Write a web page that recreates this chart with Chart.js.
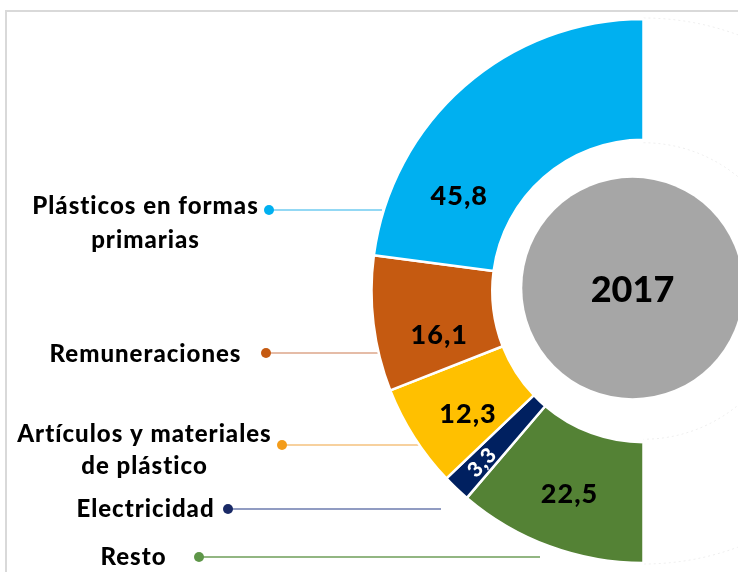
<!DOCTYPE html>
<html>
<head>
<meta charset="utf-8">
<script src="https://cdn.jsdelivr.net/npm/chart.js@4.4.1/dist/chart.umd.min.js"></script>
<style>
  html, body { margin: 0; padding: 0; background: #ffffff; }
  #wrap { position: relative; width: 738px; height: 572px; overflow: hidden; background: #fff; }
  #frame { position: absolute; left: 5px; top: 10px; width: 800px; height: 700px;
           border-left: 2px solid #d9d9d9; border-top: 2px solid #d9d9d9; }
  canvas { position: absolute; left: 0; top: 0; }
</style>
</head>
<body>
<div id="wrap">
  <div id="frame"></div>
  <canvas id="c" width="738" height="572"></canvas>
</div>
<script>
// ---- data ----
const categories = ["Plásticos en formas primarias", "Remuneraciones", "Artículos y materiales de plástico", "Electricidad", "Resto"];
const values = [45.8, 16.1, 12.3, 3.3, 22.5];
const valueLabels = ["45,8", "16,1", "12,3", "3,3", "22,5"];
const centerLabel = "2017";

// ---- styles ----
const segColors = ["#00B0F0", "#C55A11", "#FFC000", "#002060", "#548235"];
const FONT = "Lato, 'Open Sans', sans-serif";

// label annotations (positions/styles only)
const annotations = [
  { lines: ["Plásticos en formas", "primarias"], cx: 145, ys: [206, 240], dot: [269, 210], end: 382, dotColor: "#00B0F0", lineColor: "#6FCBF0" },
  { lines: ["Remuneraciones"], cx: 145, ys: [354], dot: [266, 353], end: 378, dotColor: "#C55A11", lineColor: "#DDA68A" },
  { lines: ["Artículos y materiales", "de plástico"], cx: 144, ys: [434, 466], dot: [282, 445], end: 420, dotColor: "#F39C1A", lineColor: "#F5C27E" },
  { lines: ["Electricidad"], cx: 145, ys: [509], dot: [228, 509], end: 441, dotColor: "#1A2A66", lineColor: "#6C7BAE" },
  { lines: ["Resto"], cx: 133, ys: [557], dot: [199, 557], end: 540, dotColor: "#5E9648", lineColor: "#6E9E58" }
];
// value-label placement inside each segment: fraction along the arc, fraction across the ring, color, rotate radially
const valuePlacement = [
  { a: 0.24, r: 0.47, color: "#000", radial: false },
  { a: 0.33, r: 0.48, color: "#000", radial: false },
  { a: 0.40, r: 0.52, color: "#000", radial: false },
  { a: 0.50, r: 0.70, color: "#fff", radial: true },
  { a: 0.50, r: 0.53, color: "#000", radial: false }
];

// chart goes clockwise from the bottom, so feed series bottom-first
const n = values.length;
const order = values.map((_, i) => n - 1 - i);

function spacedText(ctx, t, x, y, spacing) {
  if ('letterSpacing' in ctx) {
    ctx.letterSpacing = spacing + "px";
    ctx.fillText(t, x + spacing / 2, y);
    ctx.letterSpacing = "0px";
  } else {
    ctx.fillText(t, x, y);
  }
}

const labelPlugin = {
  id: 'annot',
  beforeDatasetsDraw(chart) {
    const ctx = chart.ctx;
    ctx.save();
    annotations.forEach(an => {
      ctx.strokeStyle = an.lineColor;
      ctx.lineWidth = 1.6;
      ctx.beginPath();
      ctx.moveTo(an.dot[0], an.dot[1]);
      ctx.lineTo(an.end, an.dot[1]);
      ctx.stroke();
      ctx.fillStyle = an.dotColor;
      ctx.beginPath();
      ctx.arc(an.dot[0], an.dot[1], 5, 0, Math.PI * 2);
      ctx.fill();
      ctx.fillStyle = "#000";
      ctx.font = "900 24px " + FONT;
      ctx.textAlign = "center";
      ctx.textBaseline = "middle";
      an.lines.forEach((t, k) => spacedText(ctx, t, an.cx, an.ys[k], 1));
    });
    // faint dotted outline of the hidden half
    const arc0 = chart.getDatasetMeta(0).data[0];
    const p = arc0.getProps(['x', 'y', 'innerRadius', 'outerRadius'], true);
    ctx.strokeStyle = "rgba(0,0,0,0.07)";
    ctx.lineWidth = 1;
    ctx.setLineDash([2, 3]);
    ctx.beginPath(); ctx.arc(p.x, p.y, p.outerRadius + 1, -Math.PI / 2, Math.PI / 2); ctx.stroke();
    ctx.beginPath(); ctx.arc(p.x, p.y, p.innerRadius - 3, -Math.PI / 2, Math.PI / 2); ctx.stroke();
    ctx.setLineDash([]);
    ctx.restore();
  },
  afterDatasetsDraw(chart) {
    const ctx = chart.ctx;
    const meta = chart.getDatasetMeta(0);
    ctx.save();
    meta.data.forEach((arc, j) => {
      const i = order[j];
      const p = arc.getProps(['x', 'y', 'startAngle', 'endAngle', 'innerRadius', 'outerRadius'], true);
      const pl = valuePlacement[i];
      const ang = p.startAngle + pl.a * (p.endAngle - p.startAngle);
      const rad = p.innerRadius + pl.r * (p.outerRadius - p.innerRadius);
      const x = p.x + rad * Math.cos(ang);
      const y = p.y + rad * Math.sin(ang);
      ctx.save();
      ctx.translate(x, y);
      if (pl.radial) ctx.rotate(ang + Math.PI);
      ctx.fillStyle = pl.color;
      ctx.font = "900 " + (pl.radial ? 21 : 27) + "px " + FONT;
      ctx.textAlign = "center";
      ctx.textBaseline = "middle";
      spacedText(ctx, valueLabels[i], 0, 1, 1);
      ctx.restore();
    });
    // grey centre disc with year
    const p0 = meta.data[0].getProps(['x', 'y', 'innerRadius'], true);
    const cx = p0.x - 11, cy = p0.y - 3, cr = p0.innerRadius - 41;
    ctx.fillStyle = "#A6A6A6";
    ctx.beginPath(); ctx.arc(cx, cy, cr, 0, Math.PI * 2); ctx.fill();
    ctx.fillStyle = "#000";
    ctx.font = "900 36px " + FONT;
    ctx.textAlign = "center";
    ctx.textBaseline = "middle";
    ctx.fillText(centerLabel, cx, cy + 2);
    ctx.restore();
  }
};

new Chart(document.getElementById('c'), {
  type: 'doughnut',
  data: {
    labels: order.map(i => categories[i]),
    datasets: [{
      data: order.map(i => values[i]),
      backgroundColor: order.map(i => segColors[i]),
      borderColor: "#ffffff",
      borderWidth: 2.5
    }]
  },
  options: {
    responsive: false,
    animation: false,
    devicePixelRatio: 1,
    rotation: 180,
    circumference: 180,
    radius: 272,
    cutout: "55.6%",
    layout: { padding: { left: 372, right: 95, top: 20, bottom: 10 } },
    plugins: { legend: { display: false }, tooltip: { enabled: false } }
  },
  plugins: [labelPlugin]
});
</script>
</body>
</html>
